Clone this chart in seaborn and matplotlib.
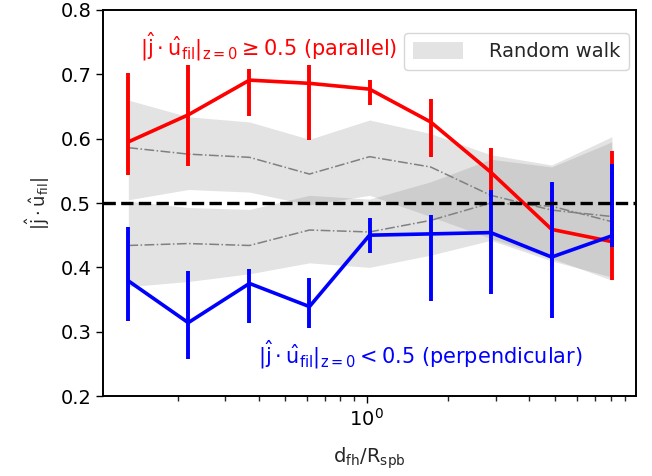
import matplotlib
matplotlib.use("Agg")
import matplotlib.pyplot as plt
import seaborn as sns
import pandas as pd
import numpy as np
from matplotlib.patches import Patch

sns.set_style("ticks")
plt.rcParams['font.family'] = ['DejaVu Sans']
plt.rcParams['mathtext.fontset'] = 'dejavusans'

# ---- data ----
d_ratio = [0.1315, 0.219, 0.369, 0.615, 1.026, 1.726, 2.88, 4.84, 8.08]

par_mean = [0.595, 0.637, 0.691, 0.686, 0.677, 0.626, 0.548, 0.459, 0.440]
par_hi   = [0.702, 0.714, 0.709, 0.714, 0.691, 0.662, 0.586, 0.520, 0.581]
par_lo   = [0.544, 0.558, 0.635, 0.598, 0.653, 0.572, 0.510, 0.400, 0.380]

perp_mean = [0.379, 0.314, 0.375, 0.339, 0.450, 0.452, 0.454, 0.416, 0.449]
perp_hi   = [0.463, 0.394, 0.398, 0.383, 0.477, 0.482, 0.521, 0.533, 0.561]
perp_lo   = [0.316, 0.257, 0.313, 0.305, 0.422, 0.347, 0.358, 0.321, 0.432]

rw_par_mean = [0.586, 0.576, 0.571, 0.545, 0.572, 0.556, 0.512, 0.489, 0.479]
rw_par_hi   = [0.660, 0.634, 0.626, 0.599, 0.629, 0.608, 0.575, 0.559, 0.603]
rw_par_lo   = [0.505, 0.521, 0.517, 0.497, 0.512, 0.479, 0.445, 0.414, 0.380]

rw_perp_mean = [0.434, 0.437, 0.434, 0.458, 0.455, 0.473, 0.500, 0.495, 0.471]
rw_perp_hi   = [0.503, 0.493, 0.490, 0.512, 0.506, 0.533, 0.568, 0.556, 0.595]
rw_perp_lo   = [0.370, 0.378, 0.390, 0.407, 0.400, 0.419, 0.442, 0.410, 0.385]

df = pd.DataFrame({
    'x': d_ratio,
    'par': par_mean, 'perp': perp_mean,
    'rw_par': rw_par_mean, 'rw_perp': rw_perp_mean,
})

fig = plt.figure(figsize=(6.52, 4.76), dpi=100)
ax = fig.add_axes([0.158, 0.168, 0.817, 0.811])

# random-walk bands
ax.fill_between(d_ratio, rw_par_lo, rw_par_hi, color='gray', alpha=0.22, lw=0, zorder=1)
ax.fill_between(d_ratio, rw_perp_lo, rw_perp_hi, color='gray', alpha=0.22, lw=0, zorder=1)
sns.lineplot(data=df, x='x', y='rw_par', ax=ax, color='gray', lw=1.1,
             linestyle='-.', zorder=2, legend=False)
sns.lineplot(data=df, x='x', y='rw_perp', ax=ax, color='gray', lw=1.1,
             linestyle='-.', zorder=2, legend=False)

# measured
par_err = [np.array(par_mean) - np.array(par_lo), np.array(par_hi) - np.array(par_mean)]
perp_err = [np.array(perp_mean) - np.array(perp_lo), np.array(perp_hi) - np.array(perp_mean)]
sns.lineplot(data=df, x='x', y='par', ax=ax, color='red', lw=2.6, zorder=3, legend=False)
ax.errorbar(d_ratio, par_mean, yerr=par_err, fmt='none', ecolor='red', elinewidth=2.8,
            capsize=0, zorder=3)
sns.lineplot(data=df, x='x', y='perp', ax=ax, color='blue', lw=2.6, zorder=4, legend=False)
ax.errorbar(d_ratio, perp_mean, yerr=perp_err, fmt='none', ecolor='blue', elinewidth=2.8,
            capsize=0, zorder=4)

ax.axhline(0.5, color='black', ls='--', lw=2.4, zorder=5)

ax.set_xscale('log')
ax.set_xlim(0.106, 9.9)
ax.set_ylim(0.2, 0.8)
ax.set_yticks([0.2, 0.3, 0.4, 0.5, 0.6, 0.7, 0.8])
ax.tick_params(axis='both', labelsize=14, direction='out', length=5, width=1, colors='black')
ax.tick_params(axis='x', which='minor', length=3.5, width=1)
for s in ax.spines.values():
    s.set_linewidth(1.4)
    s.set_color('black')

ax.set_xlabel(r'$\mathrm{d_{fh}/R_{spb}}$', fontsize=14, labelpad=11)
ax.set_ylabel(r'$|\hat{\mathrm{j}}\cdot\hat{\mathrm{u}}_{\mathrm{fil}}|$', fontsize=13, labelpad=6)

ax.text(0.069, 0.906, r'$|\hat{\mathrm{j}}\cdot\hat{\mathrm{u}}_{\mathrm{fil}}|_{\mathrm{z=0}}\geq 0.5$ (parallel)',
        transform=ax.transAxes, color='red', fontsize=15, va='center', ha='left')
ax.text(0.291, 0.106, r'$|\hat{\mathrm{j}}\cdot\hat{\mathrm{u}}_{\mathrm{fil}}|_{\mathrm{z=0}}< 0.5$ (perpendicular)',
        transform=ax.transAxes, color='blue', fontsize=15, va='center', ha='left')

handle = Patch(facecolor='gray', alpha=0.22, edgecolor='none')
ax.legend([handle], ['Random walk'], loc='upper right', bbox_to_anchor=(0.987, 0.94),
          borderaxespad=0, fontsize=14, handlelength=2.6, handleheight=0.95,
          handletextpad=1.3, borderpad=0.45, frameon=True)

fig.savefig('out.png', dpi=100)
